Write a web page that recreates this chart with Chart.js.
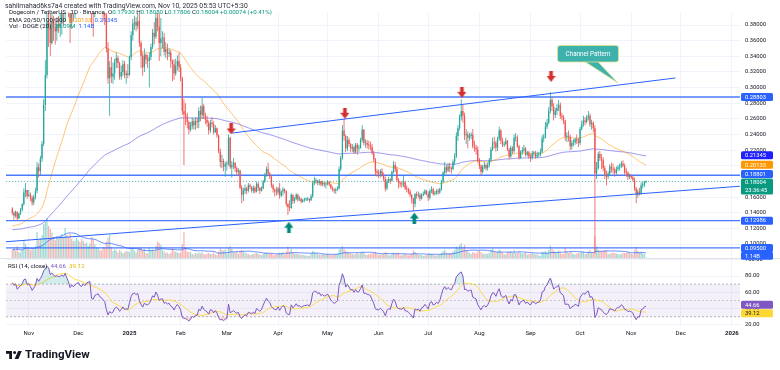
<!DOCTYPE html>
<html>
<head>
<meta charset="utf-8">
<title>Dogecoin / TetherUS 1D</title>
<script src="https://cdn.jsdelivr.net/npm/chart.js@4.4.1/dist/chart.umd.min.js"></script>
<style>
  html, body { margin: 0; padding: 0; background: #ffffff; }
  #chart { display: block; }
</style>
</head>
<body>
<canvas id="chart" width="780" height="370"></canvas>
<script>
// Daily DOGE/USDT candles, 2024-10-22 .. 2025-11-10 (one value per day)
const startDate = '2024-10-22';
const firstOpen = 0.145;

const closes = [
    // Oct 2024
    0.140, 0.136, 0.141, 0.133, 0.139, 0.144, 0.151, 0.166, 0.169, 0.161,
    // Nov
    0.163, 0.159, 0.153, 0.160, 0.168, 0.198, 0.193, 0.209, 0.228, 0.278, 0.316, 0.384, 0.379, 0.357, 0.384,
    0.376, 0.372, 0.381, 0.378, 0.382, 0.398, 0.394, 0.430, 0.417, 0.404, 0.383, 0.404, 0.397, 0.411, 0.423,
    // Dec
    0.431, 0.421, 0.418, 0.437, 0.431, 0.451, 0.456, 0.462, 0.398, 0.394, 0.415, 0.420, 0.424, 0.412, 0.408,
    0.400, 0.392, 0.350, 0.312, 0.326, 0.314, 0.318, 0.333, 0.338, 0.331, 0.314, 0.320, 0.330, 0.316, 0.318, 0.316,
    // Jan 2025
    0.339, 0.367, 0.382, 0.384, 0.379, 0.385, 0.357, 0.340, 0.326, 0.342, 0.336, 0.334, 0.339, 0.352, 0.370,
    0.365, 0.389, 0.378, 0.357, 0.363, 0.364, 0.346, 0.349, 0.343, 0.345, 0.334, 0.330, 0.318, 0.328, 0.334, 0.326,
    // Feb
    0.312, 0.270, 0.266, 0.263, 0.256, 0.246, 0.251, 0.257, 0.252, 0.257, 0.256, 0.270, 0.265, 0.276,
    0.264, 0.259, 0.255, 0.245, 0.255, 0.253, 0.243, 0.248, 0.239, 0.218, 0.205, 0.206, 0.199, 0.202,
    // Mar
    0.203, 0.236, 0.198, 0.201, 0.204, 0.197, 0.192, 0.194, 0.172, 0.163, 0.168, 0.171, 0.168, 0.175, 0.173,
    0.168, 0.172, 0.167, 0.177, 0.172, 0.168, 0.171, 0.180, 0.188, 0.196, 0.190, 0.186, 0.175, 0.170, 0.167, 0.166,
    // Apr
    0.171, 0.162, 0.167, 0.170, 0.168, 0.151, 0.147, 0.146, 0.163, 0.155, 0.158, 0.163, 0.157, 0.158, 0.154,
    0.156, 0.157, 0.157, 0.158, 0.156, 0.161, 0.178, 0.181, 0.181, 0.178, 0.180, 0.176, 0.178, 0.176, 0.177,
    // May
    0.179, 0.176, 0.172, 0.170, 0.168, 0.169, 0.171, 0.196, 0.210, 0.245, 0.238, 0.222, 0.233, 0.228, 0.222,
    0.224, 0.218, 0.227, 0.222, 0.223, 0.233, 0.246, 0.229, 0.229, 0.227, 0.226, 0.224, 0.216, 0.208, 0.193, 0.191,
    // Jun
    0.190, 0.193, 0.189, 0.183, 0.171, 0.180, 0.183, 0.181, 0.192, 0.201, 0.196, 0.182, 0.178, 0.177, 0.176,
    0.179, 0.171, 0.170, 0.167, 0.163, 0.158, 0.151, 0.164, 0.162, 0.163, 0.158, 0.163, 0.164, 0.168, 0.164,
    // Jul
    0.159, 0.168, 0.170, 0.164, 0.165, 0.168, 0.166, 0.170, 0.180, 0.191, 0.198, 0.194, 0.199, 0.197, 0.196,
    0.205, 0.212, 0.238, 0.248, 0.262, 0.270, 0.264, 0.239, 0.240, 0.236, 0.238, 0.240, 0.225, 0.223, 0.221, 0.207,
    // Aug
    0.200, 0.192, 0.199, 0.201, 0.197, 0.201, 0.208, 0.221, 0.230, 0.229, 0.223, 0.235, 0.245, 0.232, 0.227,
    0.228, 0.232, 0.221, 0.212, 0.223, 0.219, 0.236, 0.236, 0.225, 0.210, 0.218, 0.220, 0.222, 0.214, 0.217, 0.212,
    // Sep
    0.210, 0.216, 0.216, 0.212, 0.214, 0.215, 0.218, 0.235, 0.237, 0.250, 0.255, 0.270, 0.284, 0.276, 0.265,
    0.270, 0.274, 0.278, 0.264, 0.262, 0.258, 0.237, 0.238, 0.237, 0.225, 0.229, 0.230, 0.234, 0.232, 0.229,
    // Oct
    0.247, 0.253, 0.258, 0.256, 0.262, 0.264, 0.253, 0.255, 0.248, 0.190, 0.197, 0.215, 0.210, 0.207, 0.197,
    0.189, 0.186, 0.190, 0.199, 0.196, 0.195, 0.191, 0.196, 0.198, 0.199, 0.203, 0.200, 0.192, 0.191, 0.186, 0.187,
    // Nov 2025
    0.185, 0.182, 0.171, 0.163, 0.167, 0.165, 0.175, 0.176, 0.1793, 0.18004
];

const highs = [
    0.147, 0.142, 0.143, 0.142, 0.140, 0.146, 0.152, 0.171, 0.178, 0.169,
    0.169, 0.166, 0.162, 0.163, 0.172, 0.205, 0.203, 0.213, 0.232, 0.285, 0.335, 0.430, 0.437, 0.398, 0.395,
    0.392, 0.388, 0.390, 0.392, 0.399, 0.405, 0.415, 0.443, 0.435, 0.428, 0.412, 0.410, 0.415, 0.418, 0.438,
    0.442, 0.440, 0.430, 0.445, 0.445, 0.459, 0.470, 0.484, 0.465, 0.412, 0.425, 0.430, 0.437, 0.428, 0.420,
    0.418, 0.408, 0.398, 0.358, 0.334, 0.339, 0.332, 0.337, 0.345, 0.341, 0.333, 0.328, 0.335, 0.334, 0.322, 0.330,
    0.341, 0.372, 0.388, 0.392, 0.390, 0.403, 0.394, 0.360, 0.345, 0.350, 0.344, 0.342, 0.345, 0.356, 0.375,
    0.384, 0.398, 0.435, 0.395, 0.389, 0.372, 0.370, 0.358, 0.356, 0.350, 0.348, 0.336, 0.336, 0.337, 0.341, 0.345,
    0.330, 0.314, 0.285, 0.280, 0.268, 0.258, 0.256, 0.262, 0.260, 0.262, 0.262, 0.275, 0.277, 0.287,
    0.279, 0.268, 0.264, 0.258, 0.259, 0.262, 0.257, 0.252, 0.249, 0.240, 0.222, 0.214, 0.209, 0.205,
    0.206, 0.240, 0.237, 0.206, 0.210, 0.205, 0.199, 0.197, 0.195, 0.175, 0.172, 0.176, 0.173, 0.178, 0.177,
    0.174, 0.175, 0.174, 0.180, 0.179, 0.173, 0.174, 0.182, 0.191, 0.199, 0.204, 0.192, 0.187, 0.177, 0.171, 0.173,
    0.173, 0.178, 0.168, 0.173, 0.171, 0.168, 0.152, 0.156, 0.165, 0.163, 0.160, 0.165, 0.164, 0.161, 0.159,
    0.158, 0.159, 0.159, 0.160, 0.158, 0.164, 0.181, 0.186, 0.184, 0.182, 0.183, 0.181, 0.181, 0.179, 0.179,
    0.182, 0.181, 0.177, 0.174, 0.171, 0.172, 0.174, 0.199, 0.213, 0.252, 0.260, 0.240, 0.238, 0.236, 0.229,
    0.228, 0.226, 0.229, 0.229, 0.227, 0.236, 0.252, 0.247, 0.234, 0.233, 0.232, 0.231, 0.228, 0.219, 0.210, 0.196,
    0.195, 0.196, 0.197, 0.191, 0.186, 0.183, 0.186, 0.184, 0.194, 0.206, 0.205, 0.199, 0.184, 0.180, 0.181,
    0.187, 0.181, 0.175, 0.172, 0.170, 0.164, 0.159, 0.165, 0.167, 0.167, 0.165, 0.165, 0.167, 0.170, 0.169,
    0.167, 0.170, 0.174, 0.172, 0.168, 0.170, 0.171, 0.172, 0.182, 0.193, 0.205, 0.201, 0.203, 0.204, 0.199,
    0.208, 0.216, 0.243, 0.252, 0.266, 0.285, 0.278, 0.268, 0.247, 0.244, 0.242, 0.243, 0.247, 0.232, 0.227, 0.225,
    0.210, 0.202, 0.201, 0.205, 0.203, 0.204, 0.210, 0.224, 0.236, 0.237, 0.232, 0.237, 0.250, 0.247, 0.236,
    0.231, 0.236, 0.233, 0.223, 0.226, 0.225, 0.240, 0.242, 0.239, 0.227, 0.220, 0.224, 0.227, 0.224, 0.219, 0.219,
    0.215, 0.219, 0.219, 0.219, 0.218, 0.218, 0.222, 0.239, 0.241, 0.256, 0.260, 0.275, 0.294, 0.288, 0.280,
    0.274, 0.279, 0.284, 0.281, 0.268, 0.265, 0.259, 0.243, 0.245, 0.240, 0.233, 0.234, 0.236, 0.240, 0.236,
    0.250, 0.258, 0.264, 0.262, 0.265, 0.270, 0.267, 0.259, 0.257, 0.252, 0.205, 0.218, 0.219, 0.215, 0.211,
    0.200, 0.194, 0.193, 0.202, 0.204, 0.203, 0.198, 0.199, 0.201, 0.203, 0.206, 0.207, 0.203, 0.197, 0.193, 0.190,
    0.189, 0.187, 0.185, 0.173, 0.170, 0.172, 0.179, 0.180, 0.181, 0.1808
];

const lows = [
    0.137, 0.131, 0.134, 0.130, 0.132, 0.137, 0.142, 0.149, 0.160, 0.158,
    0.161, 0.155, 0.149, 0.150, 0.157, 0.165, 0.185, 0.188, 0.205, 0.225, 0.270, 0.312, 0.352, 0.340, 0.355,
    0.360, 0.355, 0.360, 0.370, 0.365, 0.368, 0.380, 0.384, 0.405, 0.390, 0.357, 0.375, 0.385, 0.389, 0.401,
    0.418, 0.405, 0.396, 0.410, 0.420, 0.426, 0.440, 0.448, 0.382, 0.365, 0.390, 0.405, 0.410, 0.405, 0.400,
    0.385, 0.380, 0.345, 0.305, 0.264, 0.306, 0.305, 0.310, 0.325, 0.325, 0.310, 0.310, 0.315, 0.312, 0.305, 0.312,
    0.315, 0.335, 0.360, 0.374, 0.372, 0.375, 0.352, 0.325, 0.315, 0.320, 0.330, 0.325, 0.300, 0.335, 0.349,
    0.355, 0.362, 0.372, 0.334, 0.340, 0.350, 0.341, 0.338, 0.335, 0.339, 0.325, 0.308, 0.310, 0.315, 0.322, 0.320,
    0.308, 0.265, 0.201, 0.252, 0.248, 0.240, 0.244, 0.247, 0.246, 0.246, 0.248, 0.248, 0.257, 0.260,
    0.260, 0.253, 0.250, 0.240, 0.242, 0.249, 0.240, 0.242, 0.236, 0.216, 0.198, 0.197, 0.193, 0.186,
    0.194, 0.200, 0.196, 0.185, 0.196, 0.192, 0.187, 0.189, 0.170, 0.152, 0.155, 0.164, 0.164, 0.166, 0.170,
    0.166, 0.165, 0.165, 0.166, 0.168, 0.164, 0.167, 0.170, 0.178, 0.186, 0.187, 0.183, 0.172, 0.166, 0.161, 0.162,
    0.163, 0.158, 0.160, 0.162, 0.165, 0.148, 0.137, 0.142, 0.145, 0.151, 0.152, 0.156, 0.154, 0.155, 0.152,
    0.153, 0.154, 0.155, 0.155, 0.153, 0.155, 0.159, 0.175, 0.177, 0.175, 0.175, 0.174, 0.174, 0.173, 0.171,
    0.175, 0.174, 0.170, 0.167, 0.165, 0.164, 0.168, 0.170, 0.193, 0.208, 0.232, 0.217, 0.219, 0.224, 0.218,
    0.218, 0.215, 0.216, 0.214, 0.218, 0.222, 0.230, 0.226, 0.223, 0.222, 0.221, 0.220, 0.214, 0.205, 0.187, 0.186,
    0.184, 0.185, 0.186, 0.180, 0.167, 0.169, 0.178, 0.177, 0.180, 0.190, 0.192, 0.180, 0.171, 0.173, 0.172,
    0.173, 0.169, 0.166, 0.164, 0.160, 0.152, 0.142, 0.147, 0.158, 0.159, 0.155, 0.157, 0.161, 0.163, 0.162,
    0.155, 0.157, 0.165, 0.162, 0.162, 0.163, 0.163, 0.164, 0.168, 0.178, 0.188, 0.190, 0.192, 0.192, 0.190,
    0.194, 0.201, 0.210, 0.232, 0.245, 0.258, 0.255, 0.233, 0.228, 0.222, 0.232, 0.234, 0.222, 0.218, 0.214, 0.204,
    0.196, 0.188, 0.190, 0.196, 0.194, 0.194, 0.198, 0.205, 0.219, 0.222, 0.218, 0.219, 0.232, 0.228, 0.224,
    0.224, 0.226, 0.219, 0.208, 0.210, 0.215, 0.216, 0.231, 0.223, 0.208, 0.209, 0.214, 0.217, 0.212, 0.212, 0.209,
    0.205, 0.208, 0.212, 0.209, 0.210, 0.211, 0.212, 0.216, 0.230, 0.235, 0.247, 0.253, 0.267, 0.270, 0.258,
    0.261, 0.265, 0.270, 0.260, 0.258, 0.253, 0.232, 0.230, 0.231, 0.220, 0.221, 0.225, 0.227, 0.228, 0.224,
    0.227, 0.245, 0.250, 0.252, 0.254, 0.258, 0.250, 0.246, 0.243, 0.088, 0.183, 0.195, 0.206, 0.196, 0.193,
    0.183, 0.175, 0.183, 0.187, 0.191, 0.190, 0.186, 0.189, 0.193, 0.194, 0.197, 0.198, 0.189, 0.186, 0.182, 0.183,
    0.183, 0.180, 0.168, 0.152, 0.159, 0.162, 0.163, 0.171, 0.173, 0.17806
];

// Daily volume, billions of DOGE
const volumes = [
    1.6, 1.9, 1.4, 2.3, 1.2, 1.1, 1.7, 3.6, 2.8, 2.2,
    1.8, 1.6, 1.9, 1.7, 2.4, 5.2, 3.6, 3.9, 4.6, 6.8, 7.2, 8.0, 6.4, 5.8, 5.1,
    4.2, 3.6, 4.4, 3.9, 4.1, 4.8, 4.0, 6.0, 4.6, 4.2, 4.9, 3.8, 3.4, 3.5, 4.0,
    3.5, 3.2, 3.8, 3.4, 2.9, 3.1, 2.4, 2.9, 4.2, 3.8, 2.7, 2.2, 2.0, 1.6, 1.5,
    2.2, 2.0, 3.3, 4.1, 4.6, 2.2, 1.4, 1.8, 1.5, 1.1, 1.6, 1.3, 1.0, 1.1, 1.4, 1.3,
    1.2, 1.9, 2.0, 1.5, 1.1, 1.7, 2.0, 2.1, 1.6, 1.8, 1.0, 0.9, 2.2, 1.5, 1.7,
    1.3, 2.4, 3.3, 3.0, 2.6, 1.6, 1.3, 1.0, 1.1, 0.8, 1.0, 1.9, 1.4, 1.2, 1.1, 1.0,
    1.1, 2.8, 5.2, 2.2, 1.3, 1.2, 1.3, 0.8, 0.7, 1.0, 0.9, 1.1, 0.9, 1.2,
    0.8, 0.7, 0.9, 1.0, 0.8, 0.8, 1.1, 0.7, 0.6, 1.3, 1.9, 1.6, 1.5, 1.7,
    0.9, 2.0, 2.4, 1.8, 1.2, 1.1, 1.3, 0.8, 1.4, 1.6, 1.3, 1.1, 0.9, 0.8, 0.6,
    0.7, 0.8, 0.9, 1.0, 0.8, 0.7, 0.6, 0.8, 1.1, 1.0, 1.0, 0.8, 1.0, 0.7, 0.6, 0.8,
    0.9, 1.1, 1.0, 1.2, 0.6, 1.4, 2.3, 1.3, 1.8, 1.2, 0.9, 0.8, 0.9, 0.7, 0.6,
    0.7, 0.5, 0.5, 0.4, 0.5, 0.9, 1.4, 1.2, 0.9, 0.9, 0.7, 0.6, 0.8, 0.7, 0.7,
    0.8, 0.7, 0.6, 0.6, 0.7, 0.8, 0.8, 1.7, 1.9, 2.4, 1.8, 1.5, 1.2, 1.1, 0.9,
    0.8, 0.7, 0.8, 1.0, 0.8, 1.0, 1.3, 1.1, 0.7, 0.6, 0.8, 0.8, 0.9, 1.0, 1.3, 0.8,
    0.6, 0.7, 0.7, 0.8, 1.2, 1.0, 0.6, 0.5, 0.9, 1.1, 0.9, 1.0, 1.1, 0.6, 0.5,
    0.8, 0.8, 0.7, 0.5, 0.7, 0.8, 1.5, 1.3, 0.8, 0.7, 0.6, 0.6, 0.4, 0.5, 0.6,
    0.8, 0.9, 0.8, 0.7, 0.5, 0.5, 0.6, 0.7, 1.0, 1.4, 1.7, 1.1, 0.9, 1.0, 1.0,
    1.3, 1.6, 2.3, 2.0, 2.6, 3.0, 2.2, 2.6, 1.6, 1.4, 1.0, 0.8, 1.2, 1.0, 0.9, 1.3,
    1.5, 1.2, 0.9, 0.8, 0.9, 0.8, 1.0, 1.6, 1.9, 1.3, 1.1, 1.3, 1.7, 1.5, 1.1,
    0.8, 0.7, 1.2, 1.2, 1.4, 1.0, 1.6, 1.0, 1.0, 1.3, 1.1, 0.9, 1.0, 1.1, 0.7, 0.8,
    0.8, 1.0, 0.8, 0.7, 0.8, 0.5, 0.5, 1.3, 1.2, 1.4, 1.1, 1.6, 2.5, 1.8, 1.5,
    1.2, 1.1, 1.5, 1.2, 0.8, 0.8, 2.0, 1.3, 1.0, 1.4, 1.1, 0.8, 0.7, 0.9, 1.0,
    1.0, 1.2, 1.3, 0.8, 0.9, 1.3, 1.6, 1.1, 1.0, 4.3, 2.3, 1.6, 1.4, 1.4, 1.3,
    1.6, 1.5, 0.8, 0.8, 1.0, 1.1, 1.0, 0.9, 0.8, 0.7, 0.8, 1.0, 1.0, 1.1, 1.2, 1.0,
    0.8, 0.7, 1.6, 2.2, 1.4, 1.1, 1.3, 0.9, 0.8, 0.03
];

// Axis ticks
const priceTicks = [0.10, 0.12, 0.14, 0.16, 0.18, 0.20, 0.22, 0.24, 0.26, 0.28, 0.30, 0.32, 0.34, 0.36, 0.38];
const rsiTicks = [20, 40, 60, 80, 100];
const monthDates = ['2024-11-01', '2024-12-01', '2025-01-01', '2025-02-01', '2025-03-01', '2025-04-01',
    '2025-05-01', '2025-06-01', '2025-07-01', '2025-08-01', '2025-09-01', '2025-10-01', '2025-11-01',
    '2025-12-01', '2026-01-01'];
const monthLabels = ['Nov', 'Dec', '2025', 'Feb', 'Mar', 'Apr', 'May', 'Jun', 'Jul', 'Aug', 'Sep', 'Oct', 'Nov', 'Dec', '2026'];

// Drawings (day index from startDate, price)
const supportLevels = [0.28803, 0.18801, 0.12986, 0.095];
const upperChannel = [[133.2, 0.2419], [401.8, 0.3123]];
const lowerChannel = [[-3.82, 0.1029], [440.9, 0.1739]];
const sellArrows = [[132.6, 0.2471], [201.5, 0.2672], [272.4, 0.2939], [326.4, 0.3143]];
const buyArrows = [[167.6, 0.1215], [243.6, 0.1332]];
const calloutTip = [367.0, 0.3059];

// Indicator starting values
const ema50Seed = 0.122;
const ema200Seed = 0.118;
const rsiSeedGain = 0.0048;
const rsiSeedLoss = 0.0015;

// Axis ranges
const X_MIN = -3.82, X_MAX = 440.9;
const PRICE_MIN = 0.0821, PRICE_MAX = 0.3954;
const RSI_MIN = 18.65, RSI_MAX = 102.1;
const VOL_MIN = -13.6, VOL_MAX = 49.0;

// Styles
const FONT = "Roboto, 'Noto Sans', 'DejaVu Sans', sans-serif";
const TEXT = '#131722';
const GRID = '#f0f3fa';
const UP = '#26a69a';
const DOWN = '#ef5350';
const BLUE = '#2962ff';

[highs, lows, volumes].forEach(function(arr) {
    if (arr.length !== closes.length) {
        throw new Error('series length mismatch: ' + arr.length + ' vs ' + closes.length);
    }
});

/**
 * Day offset of a YYYY-MM-DD date from the first candle
 */
function dayOf(str) {
    return (Date.parse(str + 'T00:00:00Z') - Date.parse(startDate + 'T00:00:00Z')) / 86400000;
}

function ema(values, seed, length) {
    const k = 2 / (length + 1);
    let prev = seed;
    return values.map(function(v) {
        prev = v * k + prev * (1 - k);
        return prev;
    });
}

function sma(values, length) {
    return values.map(function(_, i) {
        const from = Math.max(0, i - length + 1);
        const win = values.slice(from, i + 1);
        return win.reduce(function(a, b) { return a + b; }, 0) / win.length;
    });
}

function rsi(values, firstPrev, length) {
    let gain = rsiSeedGain;
    let loss = rsiSeedLoss;
    return values.map(function(c, i) {
        const change = c - (i === 0 ? firstPrev : values[i - 1]);
        gain = (gain * (length - 1) + Math.max(change, 0)) / length;
        loss = (loss * (length - 1) + Math.max(-change, 0)) / length;
        return 100 - 100 / (1 + gain / loss);
    });
}

function makeArrow(color, pointDown) {
    const c = document.createElement('canvas');
    c.width = 9;
    c.height = 11;
    const g = c.getContext('2d');
    g.fillStyle = color;
    g.beginPath();
    if (pointDown) {
        g.moveTo(2.7, 0); g.lineTo(6.3, 0); g.lineTo(6.3, 5); g.lineTo(9, 5);
        g.lineTo(4.5, 11); g.lineTo(0, 5); g.lineTo(2.7, 5);
    } else {
        g.moveTo(4.5, 0); g.lineTo(9, 6); g.lineTo(6.3, 6); g.lineTo(6.3, 11);
        g.lineTo(2.7, 11); g.lineTo(2.7, 6); g.lineTo(0, 6);
    }
    g.closePath();
    g.fill();
    return c;
}

const opens = closes.map(function(c, i) { return i === 0 ? firstOpen : closes[i - 1]; });
const isUp = closes.map(function(c, i) { return c >= opens[i]; });
const ema50 = ema(closes, ema50Seed, 50);
const ema200 = ema(closes, ema200Seed, 200);
const volMa = sma(volumes, 20);
const rsiLine = rsi(closes, firstOpen, 14);
const rsiMa = sma(rsiLine, 14);
const tickDays = monthDates.map(dayOf);

function series(values) {
    return values.map(function(v, i) { return {x: i, y: v}; });
}

function flatLine(value) {
    return [{x: X_MIN, y: value}, {x: X_MAX, y: value}];
}

function lineSet(extra) {
    return Object.assign({
        type: 'line',
        yAxisID: 'y',
        pointRadius: 0,
        borderWidth: 1,
        tension: 0,
        fill: false
    }, extra);
}

const datasets = [
    // RSI pane
    lineSet({yAxisID: 'yRsi', data: flatLine(70), borderColor: 'rgba(120,123,134,0.55)', borderDash: [2, 2],
        fill: {target: {value: 30}}, backgroundColor: 'rgba(126,87,194,0.09)', order: 40}),
    lineSet({yAxisID: 'yRsi', data: flatLine(50), borderColor: 'rgba(120,123,134,0.35)', borderDash: [2, 2], order: 40}),
    lineSet({yAxisID: 'yRsi', data: flatLine(30), borderColor: 'rgba(120,123,134,0.55)', borderDash: [2, 2], order: 40}),
    lineSet({yAxisID: 'yRsi', data: series(rsiMa), borderColor: '#fdd835', borderWidth: 0.9, order: 32}),
    lineSet({yAxisID: 'yRsi', data: series(rsiLine), borderColor: 'rgba(0,0,0,0)', borderWidth: 0,
        fill: {target: {value: 30}, above: 'rgba(0,0,0,0)', below: 'rgba(239,83,80,0.22)'}, order: 31}),
    lineSet({yAxisID: 'yRsi', data: series(rsiLine), borderColor: '#7e57c2', borderWidth: 1,
        fill: {target: {value: 70}, above: 'rgba(38,166,154,0.2)', below: 'rgba(0,0,0,0)'}, order: 30}),

    // Volume overlay
    {
        type: 'bar', yAxisID: 'yVol', grouped: false, order: 25,
        data: series(volumes),
        backgroundColor: isUp.map(function(u) { return u ? 'rgba(38,166,154,0.42)' : 'rgba(239,83,80,0.42)'; }),
        barThickness: 1.3, inflateAmount: 0
    },
    lineSet({yAxisID: 'yVol', data: series(volMa), borderColor: 'rgba(41,98,255,0.7)', order: 24}),

    // Moving averages
    lineSet({data: series(ema200), borderColor: 'rgba(92,84,230,0.6)', order: 20}),
    lineSet({data: series(ema50), borderColor: 'rgba(255,152,0,0.55)', order: 19}),

    // Last price
    lineSet({data: flatLine(closes[closes.length - 1]), borderColor: 'rgba(38,166,154,0.7)', borderDash: [1, 2], order: 18})
];

supportLevels.forEach(function(level) {
    datasets.push(lineSet({data: flatLine(level), borderColor: 'rgba(41,98,255,0.85)', borderWidth: 1.4, order: 12}));
});

datasets.push(
    // Candles: wicks then bodies
    {
        type: 'bar', yAxisID: 'y', grouped: false, order: 10,
        data: closes.map(function(c, i) {
            return {x: i, y: [Math.min(lows[i], opens[i], c), Math.max(highs[i], opens[i], c)]};
        }),
        backgroundColor: isUp.map(function(u) { return u ? UP : DOWN; }),
        barThickness: 0.8, inflateAmount: 0
    },
    {
        type: 'bar', yAxisID: 'y', grouped: false, order: 9,
        data: closes.map(function(c, i) { return {x: i, y: [opens[i], c]}; }),
        backgroundColor: isUp.map(function(u) { return u ? UP : DOWN; }),
        barThickness: 1.3, minBarLength: 1, inflateAmount: 0
    },

    // Channel pattern
    lineSet({data: upperChannel.map(function(p) { return {x: p[0], y: p[1]}; }), borderColor: BLUE, order: 5}),
    lineSet({data: lowerChannel.map(function(p) { return {x: p[0], y: p[1]}; }), borderColor: BLUE, order: 5}),

    // Reaction arrows
    lineSet({data: sellArrows.map(function(p) { return {x: p[0], y: p[1]}; }), showLine: false,
        pointRadius: 5, pointStyle: makeArrow('#d32f2f', true), order: 2}),
    lineSet({data: buyArrows.map(function(p) { return {x: p[0], y: p[1]}; }), showLine: false,
        pointRadius: 5, pointStyle: makeArrow('#00897b', false), order: 2})
);

/**
 * Draw a row of coloured text runs
 */
function drawRuns(ctx, x, y, size, runs) {
    ctx.font = size + 'px ' + FONT;
    ctx.textAlign = 'left';
    ctx.textBaseline = 'middle';
    runs.forEach(function(run) {
        ctx.fillStyle = run[1];
        ctx.fillText(run[0], x, y);
        x += ctx.measureText(run[0]).width;
    });
}

function roundRect(ctx, x, y, w, h, r) {
    ctx.beginPath();
    ctx.moveTo(x + r, y);
    ctx.lineTo(x + w - r, y);
    ctx.quadraticCurveTo(x + w, y, x + w, y + r);
    ctx.lineTo(x + w, y + h - r);
    ctx.quadraticCurveTo(x + w, y + h, x + w - r, y + h);
    ctx.lineTo(x + r, y + h);
    ctx.quadraticCurveTo(x, y + h, x, y + h - r);
    ctx.lineTo(x, y + r);
    ctx.quadraticCurveTo(x, y, x + r, y);
    ctx.closePath();
}

/**
 * Price tag on the right axis
 */
function drawTag(chart, scaleId, value, shift, text, bg, fg, subText) {
    const ctx = chart.ctx;
    const y = chart.scales[scaleId].getPixelForValue(value) + shift;
    const x = chart.chartArea.right + 1;
    const w = 32;
    const h = subText ? 16 : 8;
    const top = subText ? y - 4 : y - h / 2;
    ctx.fillStyle = bg;
    roundRect(ctx, x, top, w, h, 1.5);
    ctx.fill();
    ctx.fillStyle = fg;
    ctx.font = '5.8px ' + FONT;
    ctx.textAlign = 'left';
    ctx.textBaseline = 'middle';
    ctx.fillText(text, x + 4, y + 0.3);
    if (subText) {
        ctx.fillText(subText, x + 4, y + 7.5);
    }
}

function drawCallout(chart) {
    const ctx = chart.ctx;
    const tipX = chart.scales.x.getPixelForValue(calloutTip[0]);
    const tipY = chart.scales.y.getPixelForValue(calloutTip[1]);
    const left = tipX - 60.5;
    const top = tipY - 37.5;
    const w = 61;
    const h = 16.5;
    ctx.save();
    ctx.fillStyle = '#3fb1ad';
    ctx.strokeStyle = '#dfe58a';
    ctx.lineWidth = 0.8;
    ctx.beginPath();
    ctx.moveTo(left + 27, top + h - 0.6);
    ctx.lineTo(tipX, tipY);
    ctx.lineTo(left + 40, top + h - 0.6);
    ctx.closePath();
    ctx.fill();
    ctx.stroke();
    roundRect(ctx, left, top, w, h, 2.5);
    ctx.fill();
    ctx.stroke();
    ctx.fillStyle = '#ffffff';
    ctx.font = '6.3px ' + FONT;
    ctx.textAlign = 'center';
    ctx.textBaseline = 'middle';
    ctx.fillText('Channel Pattern', left + w / 2, top + h / 2 + 0.3);
    ctx.restore();
}

function drawLogo(ctx) {
    ctx.fillStyle = TEXT;
    ctx.fillRect(6, 351, 6, 2.8);
    ctx.fillRect(9.2, 351, 2.8, 8);
    ctx.beginPath();
    ctx.arc(14.6, 352.5, 1.5, 0, Math.PI * 2);
    ctx.fill();
    ctx.beginPath();
    ctx.moveTo(18.2, 351);
    ctx.lineTo(21.8, 351);
    ctx.lineTo(18.4, 359);
    ctx.lineTo(14.6, 359);
    ctx.closePath();
    ctx.fill();
    ctx.font = 'bold 11.5px ' + FONT;
    ctx.textAlign = 'left';
    ctx.textBaseline = 'middle';
    ctx.fillText('TradingView', 25, 355);
}

const overlayPlugin = {
    id: 'overlay',
    afterDraw: function(chart) {
        const ctx = chart.ctx;
        const paneBottom = chart.scales.y.bottom;
        ctx.save();

        // Pane separator
        ctx.strokeStyle = '#e0e3eb';
        ctx.lineWidth = 1;
        ctx.beginPath();
        ctx.moveTo(0, Math.round(paneBottom) + 0.5);
        ctx.lineTo(chart.width, Math.round(paneBottom) + 0.5);
        ctx.stroke();

        drawCallout(chart);

        // Right axis tags
        drawTag(chart, 'y', 0.28803, 0, '0.28803', BLUE, '#ffffff');
        drawTag(chart, 'y', 0.21345, 0, '0.21345', '#1f1fff', '#ffffff');
        drawTag(chart, 'y', 0.20133, 0, '0.20133', '#ff9800', '#ffffff');
        drawTag(chart, 'y', 0.18801, -1.3, '0.18801', BLUE, '#ffffff');
        drawTag(chart, 'y', 0.18004, 1.2, '0.18004', '#089981', '#ffffff', '23:36:45');
        drawTag(chart, 'y', 0.12986, 0, '0.12986', BLUE, '#ffffff');
        drawTag(chart, 'y', 0.095, 0, '0.09500', BLUE, '#ffffff');
        drawTag(chart, 'yVol', 1.14, 3.5, '1.14B', BLUE, '#ffffff');
        drawTag(chart, 'yRsi', 44.66, 0, '44.66', '#7e57c2', '#ffffff');
        drawTag(chart, 'yRsi', 39.12, 4, '39.12', '#fdd835', TEXT);

        // Legends
        drawRuns(ctx, 5, 6.5, 6.8, [['sahilmahad6ks7a4 created with TradingView.com, Nov 10, 2025 05:53 UTC+5:30', '#2a2e39']]);
        drawRuns(ctx, 9, 12.5, 6.2, [
            ['Dogecoin / TetherUS \u00b7 1D \u00b7 Binance  ', TEXT],
            ['O', TEXT], ['0.17930 ', '#089981'],
            ['H', TEXT], ['0.18080 ', '#089981'],
            ['L', TEXT], ['0.17806 ', '#089981'],
            ['C', TEXT], ['0.18004 ', '#089981'],
            ['+0.00074 (+0.41%)', '#089981']
        ]);
        drawRuns(ctx, 9, 20.5, 6.2, [['EMA 20/50/100/200  ', TEXT], ['0.20133  ', '#ff9800'], ['0.21345', BLUE]]);
        drawRuns(ctx, 9, 26.5, 6.2, [['Vol \u00b7 DOGE (20)  ', TEXT], ['26.09M  ', '#089981'], ['1.14B', BLUE]]);
        drawRuns(ctx, 8, paneBottom + 8, 6.2, [['RSI (14, close)  ', TEXT], ['44.66  ', '#7e57c2'], ['39.12', '#e6b800']]);

        drawLogo(ctx);
        ctx.restore();
    }
};

const chart = new Chart(document.getElementById('chart'), {
    type: 'bar',
    data: {datasets: datasets},
    plugins: [overlayPlugin],
    options: {
        responsive: false,
        animation: false,
        devicePixelRatio: 1,
        events: [],
        layout: {padding: {top: 13, right: 0, bottom: 30, left: 0}},
        font: {family: FONT},
        plugins: {
            legend: {display: false},
            tooltip: {enabled: false}
        },
        scales: {
            x: {
                type: 'linear',
                min: X_MIN,
                max: X_MAX,
                offset: false,
                afterBuildTicks: function(scale) {
                    scale.ticks = tickDays.map(function(v) { return {value: v}; });
                },
                afterFit: function(scale) { scale.height = 14; },
                grid: {color: GRID, drawTicks: false, offset: false},
                border: {display: false},
                ticks: {
                    autoSkip: false,
                    maxRotation: 0,
                    padding: 4,
                    color: TEXT,
                    font: function(ctx) {
                        const label = monthLabels[ctx.index] || '';
                        return {family: FONT, size: 6, weight: label.length === 4 ? 'bold' : 'normal'};
                    },
                    callback: function(value, index) { return monthLabels[index]; }
                }
            },
            y: {
                type: 'linear',
                position: 'right',
                stack: 'panes',
                stackWeight: 245,
                min: PRICE_MIN,
                max: PRICE_MAX,
                afterBuildTicks: function(scale) {
                    scale.ticks = priceTicks.map(function(v) { return {value: v}; });
                },
                afterFit: function(scale) { scale.width = 40; },
                grid: {color: GRID, drawTicks: false},
                border: {display: false},
                ticks: {
                    autoSkip: false,
                    padding: 5,
                    color: TEXT,
                    font: {family: FONT, size: 5.8},
                    callback: function(value) { return Number(value).toFixed(5); }
                }
            },
            yRsi: {
                type: 'linear',
                position: 'right',
                stack: 'panes',
                stackWeight: 68,
                min: RSI_MIN,
                max: RSI_MAX,
                afterBuildTicks: function(scale) {
                    scale.ticks = rsiTicks.map(function(v) { return {value: v}; });
                },
                afterFit: function(scale) { scale.width = 40; },
                grid: {color: GRID, drawTicks: false},
                border: {display: false},
                ticks: {
                    autoSkip: false,
                    padding: 5,
                    color: TEXT,
                    font: {family: FONT, size: 5.8},
                    callback: function(value) { return Number(value).toFixed(2); }
                }
            },
            yVol: {
                type: 'linear',
                display: false,
                position: 'right',
                min: VOL_MIN,
                max: VOL_MAX
            }
        }
    }
});
</script>
</body>
</html>
